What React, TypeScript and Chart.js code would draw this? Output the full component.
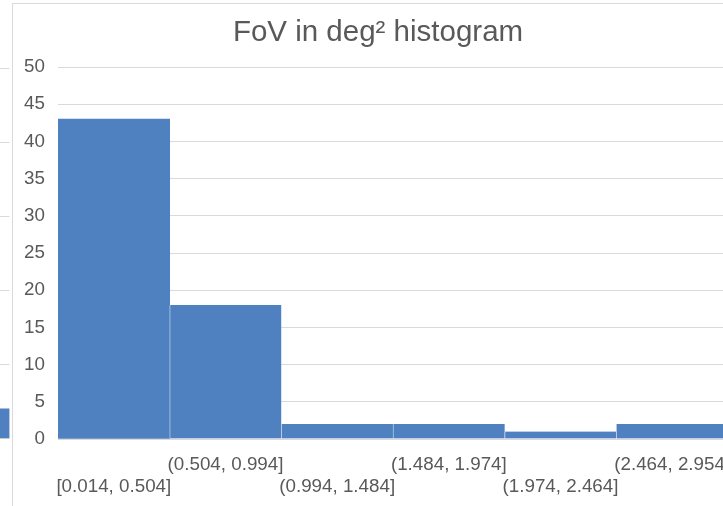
import React, { useEffect, useRef } from "react";
import { Chart, registerables } from "chart.js";

Chart.register(...registerables);

// ---- data ----
const binLabels = [
  "[0.014, 0.504]",
  "(0.504, 0.994]",
  "(0.994, 1.484]",
  "(1.484, 1.974]",
  "(1.974, 2.464]",
  "(2.464, 2.954]",
];
const binCounts = [43, 18, 2, 2, 1, 2];
const chartTitle = "FoV in deg² histogram";
const yMin = 0;
const yMax = 50;
const yStep = 5;

// partial neighbouring chart visible at the left edge
const sideLabels = [""];
const sideCounts = [4];
const sideStep = 10;

const FONT = "'Liberation Sans', Arial, sans-serif";
const TEXT = "#595959";
const GRID = "#d9d9d9";
const BAR = "#4f80bf";

function MainChart() {
  const ref = useRef<HTMLCanvasElement | null>(null);
  useEffect(() => {
    if (!ref.current) return;
    const labels = binLabels.map((l, i) => (i % 2 === 0 ? ["", l] : [l, ""]));
    const chart = new Chart(ref.current, {
      type: "bar",
      data: {
        labels,
        datasets: [
          {
            data: binCounts,
            backgroundColor: BAR,
            borderColor: "#b4cbe8",
            borderWidth: (ctx: any) =>
              ctx.dataIndex === 0 ? 0 : { left: 1, right: 0, top: 0, bottom: 0 },
            borderSkipped: false,
            barPercentage: 1,
            categoryPercentage: 1,
          },
        ],
      },
      options: {
        responsive: false,
        animation: false,
        layout: { padding: { top: 0, right: 0, bottom: 7.6, left: 0 } },
        plugins: {
          legend: { display: false },
          tooltip: { enabled: false },
          title: {
            display: true,
            text: chartTitle,
            color: TEXT,
            font: { family: FONT, size: 29.5, weight: "normal", lineHeight: 1.2 },
            padding: { top: 11, bottom: 16.6 },
          },
        },
        scales: {
          x: {
            grid: { display: false, drawTicks: false },
            border: { display: false },
            ticks: {
              autoSkip: false,
              maxRotation: 0,
              minRotation: 0,
              padding: 15,
              color: TEXT,
              font: { family: FONT, size: 18.8, lineHeight: 1.18 },
            },
            afterFit: (s: any) => {
              s.height = 59.4;
              s.paddingLeft = 0;
              s.paddingRight = 15;
            },
          },
          y: {
            min: yMin,
            max: yMax,
            ticks: {
              stepSize: yStep,
              padding: 13,
              color: TEXT,
              font: { family: FONT, size: 18.8 },
            },
            grid: { color: GRID, drawTicks: false, lineWidth: 1 },
            border: { display: false },
            afterFit: (s: any) => {
              s.width = 45;
              s.paddingTop = 0;
              s.paddingBottom = 0;
            },
          },
        },
      },
    } as any);
    return () => chart.destroy();
  }, []);
  return (
    <canvas
      ref={ref}
      width={730}
      height={502}
      style={{ position: "absolute", left: 13, top: 4, width: 730, height: 502 }}
    />
  );
}

function SideChart() {
  const ref = useRef<HTMLCanvasElement | null>(null);
  useEffect(() => {
    if (!ref.current) return;
    const chart = new Chart(ref.current, {
      type: "bar",
      data: {
        labels: sideLabels,
        datasets: [
          {
            data: sideCounts,
            backgroundColor: BAR,
            borderWidth: 0,
            barPercentage: 1,
            categoryPercentage: 1,
          },
        ],
      },
      options: {
        responsive: false,
        animation: false,
        layout: { padding: { top: 68, right: 1.5, bottom: 67.5, left: 0 } },
        plugins: {
          legend: { display: false },
          tooltip: { enabled: false },
          title: { display: false },
        },
        scales: {
          x: { display: false },
          y: {
            min: yMin,
            max: yMax,
            ticks: { display: false, stepSize: sideStep },
            grid: { color: GRID, drawTicks: false },
            border: { display: false },
            afterFit: (s: any) => {
              s.width = 0;
              s.paddingTop = 0;
              s.paddingBottom = 0;
            },
          },
        },
      },
    } as any);
    return () => chart.destroy();
  }, []);
  return (
    <canvas
      ref={ref}
      width={200}
      height={506}
      style={{ position: "absolute", left: -189, top: 0, width: 200, height: 506 }}
    />
  );
}

export default function App() {
  return (
    <div
      style={{
        position: "fixed",
        left: 0,
        top: 0,
        width: 723,
        height: 506,
        overflow: "hidden",
        background: "#ffffff",
      }}
    >
      <SideChart />
      <div
        style={{
          position: "absolute",
          left: 12,
          top: 3,
          width: 760,
          height: 600,
          border: "1px solid #d9d9d9",
          boxSizing: "border-box",
          background: "#ffffff",
        }}
      />
      <MainChart />
    </div>
  );
}
